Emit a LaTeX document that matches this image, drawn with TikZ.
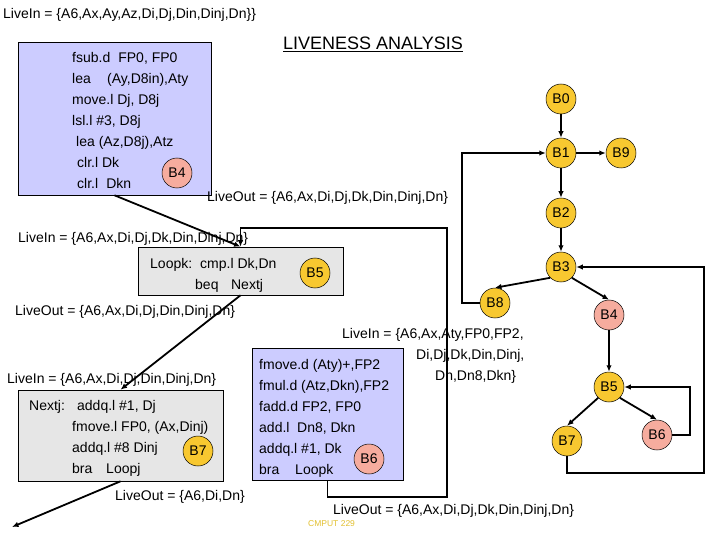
\documentclass[tikz,border=0pt]{standalone}
\usepackage{fontspec}
\setmainfont{Liberation Sans}
\usetikzlibrary{arrows.meta}
\definecolor{bbyellow}{RGB}{248,200,48}
\definecolor{bbpink}{RGB}{246,172,158}
\definecolor{codeblue}{RGB}{204,204,255}
\definecolor{codegray}{RGB}{230,230,230}
\definecolor{cmput}{RGB}{226,192,48}

\begin{document}
\begin{tikzpicture}[x=1pt,y=-1pt,>={Latex[length=6.5pt,width=5.5pt]},
    every node/.style={font=\fontsize{14}{21}\selectfont},
    blk/.style={circle,draw,line width=0.5pt,minimum size=30pt,inner sep=0pt},
    yblk/.style={blk,fill=bbyellow},
    pblk/.style={blk,fill=bbpink},
    codebox/.style={draw,line width=0.6pt,inner sep=0pt},
    asm/.style={anchor=base west,align=left,inner sep=0pt},
    flow/.style={->,line width=1.8pt}]
            \useasboundingbox (0,0) rectangle (720,540);
            \node[codebox,fill=codeblue,minimum width=193pt,minimum height=153pt] (b4box) at (114.5,118.5) {};
            \node[codebox,fill=codegray,minimum width=205pt,minimum height=48pt] (loopk) at (240.5,271) {};
            \node[codebox,fill=codegray,minimum width=205pt,minimum height=91pt] (nextj) at (120.5,435.5) {};
            \node[codebox,fill=codeblue,minimum width=151pt,minimum height=132pt] (b6box) at (327.5,414) {};
            \node[asm] (b4code) at (72,189) {fsub.d\hspace{8pt}FP0, FP0\\lea\hspace{16.3pt}(Ay,D8in),Aty\\move.l Dj, D8j\\lsl.l \#3, D8j\\\hspace*{4pt}lea (Az,D8j),Atz\\\hspace*{5pt}clr.l Dk\\\hspace*{5pt}clr.l\hspace{8.2pt}Dkn};
            \node[asm] (loopkcode) at (150,289) {Loopk:\hspace{8pt}cmp.l Dk,Dn\\\hspace*{45pt}beq\hspace{12.6pt}Nextj};
            \node[asm] (nextjcode) at (29,473) {Nextj:\hspace{12.2pt}addq.l \#1, Dj\\\hspace*{43pt}fmove.l FP0, (Ax,Dinj)\\\hspace*{43pt}addq.l \#8 Dinj\\\hspace*{43pt}bra\hspace{13.8pt}Loopj};
            \node[asm] (b6code) at (259,474) {fmove.d (Aty)+,FP2\\fmul.d (Atz,Dkn),FP2\\fadd.d FP2, FP0\\add.l\hspace{7.6pt}Dn8, Dkn\\addq.l \#1, Dk\\bra\hspace{15.8pt}Loopk};
            \node[pblk] (b4in) at (177,173) {B4};
            \node[yblk] (b5in) at (315,273) {B5};
            \node[yblk] (b7in) at (198,451) {B7};
            \node[pblk] (b6in) at (369,459) {B6};
            \node[asm] (livein4) at (3,19) {LiveIn = \{A6,Ax,Ay,Az,Di,Dj,Din,Dinj,Dn\}\}};
            \node[asm,font=\fontsize{18}{22}\selectfont] (title) at (283,49.5) {\underline{LIVENESS ANALYSIS}};
            \node[asm] (liveout4) at (207,202) {LiveOut = \{A6,Ax,Di,Dj,Dk,Din,Dinj,Dn\}};
            \node[asm] (livein5) at (18,242) {LiveIn = \{A6,Ax,Di,Dj,Dk,Din,Dinj,Dn\}};
            \node[asm] (liveout5) at (15,315) {LiveOut = \{A6,Ax,Di,Dj,Din,Dinj,Dn\}};
            \node[asm] (livein7) at (7,383) {LiveIn = \{A6,Ax,Di,Dj,Din,Dinj,Dn\}};
            \node[asm] (liveout7) at (115,500) {LiveOut = \{A6,Di,Dn\}};
            \node[asm] (livein6) at (342,380) {LiveIn = \{A6,Ax,Aty,FP0,FP2,\\\hspace*{74pt}Di,Dj,Dk,Din,Dinj,\\\hspace*{93pt}Dn,Dn8,Dkn\}};
            \node[asm] (liveout6) at (333,514) {LiveOut = \{A6,Ax,Di,Dj,Dk,Din,Dinj,Dn\}};
            \node[asm,font=\fontsize{8.5}{10}\selectfont,text=cmput] (course) at (308,526) {CMPUT 229};
            \coordinate (exit) at (12,527);
            \draw[flow] (b4box.south) -- (loopk.north);
            \draw[flow] (loopk.south) -- (nextj.north);
            \draw[flow] (nextj.south) -- (exit);
            \draw[flow] (b6box.south) -- ++(0,17) -| (447,228) -| (loopk.north);
            \node[yblk] (b0) at (561,99) {B0};
            \node[yblk] (b1) at (561,153) {B1};
            \node[yblk] (b9) at (621,153) {B9};
            \node[yblk] (b2) at (561,213) {B2};
            \node[yblk] (b3) at (561,267) {B3};
            \node[yblk] (b8) at (495,303) {B8};
            \node[pblk] (b4) at (609,315) {B4};
            \node[yblk] (b5) at (609,387) {B5};
            \node[yblk] (b7) at (567,441) {B7};
            \node[pblk] (b6) at (657,435) {B6};
            \draw[flow] (b0) -- (b1);
            \draw[flow] (b1) -- (b9);
            \draw[flow] (b1) -- (b2);
            \draw[flow] (b2) -- (b3);
            \draw[flow] (b3.south west) -- (b8.north);
            \draw[flow] (b3.south east) -- (b4.north);
            \draw[flow] (b4) -- (b5);
            \draw[flow] (b5.south west) -- (b7.north);
            \draw[flow] (b5.south east) -- (b6.north);
            \draw[flow] (b6.east) -- ++(18,0) |- (b5.east);
            \draw[flow] (b7.south) |- ++(137,17) |- (b3.east);
            \draw[flow] (b8.west) -- ++(-18,0) |- (b1.west);
        \end{tikzpicture}
\end{document}
